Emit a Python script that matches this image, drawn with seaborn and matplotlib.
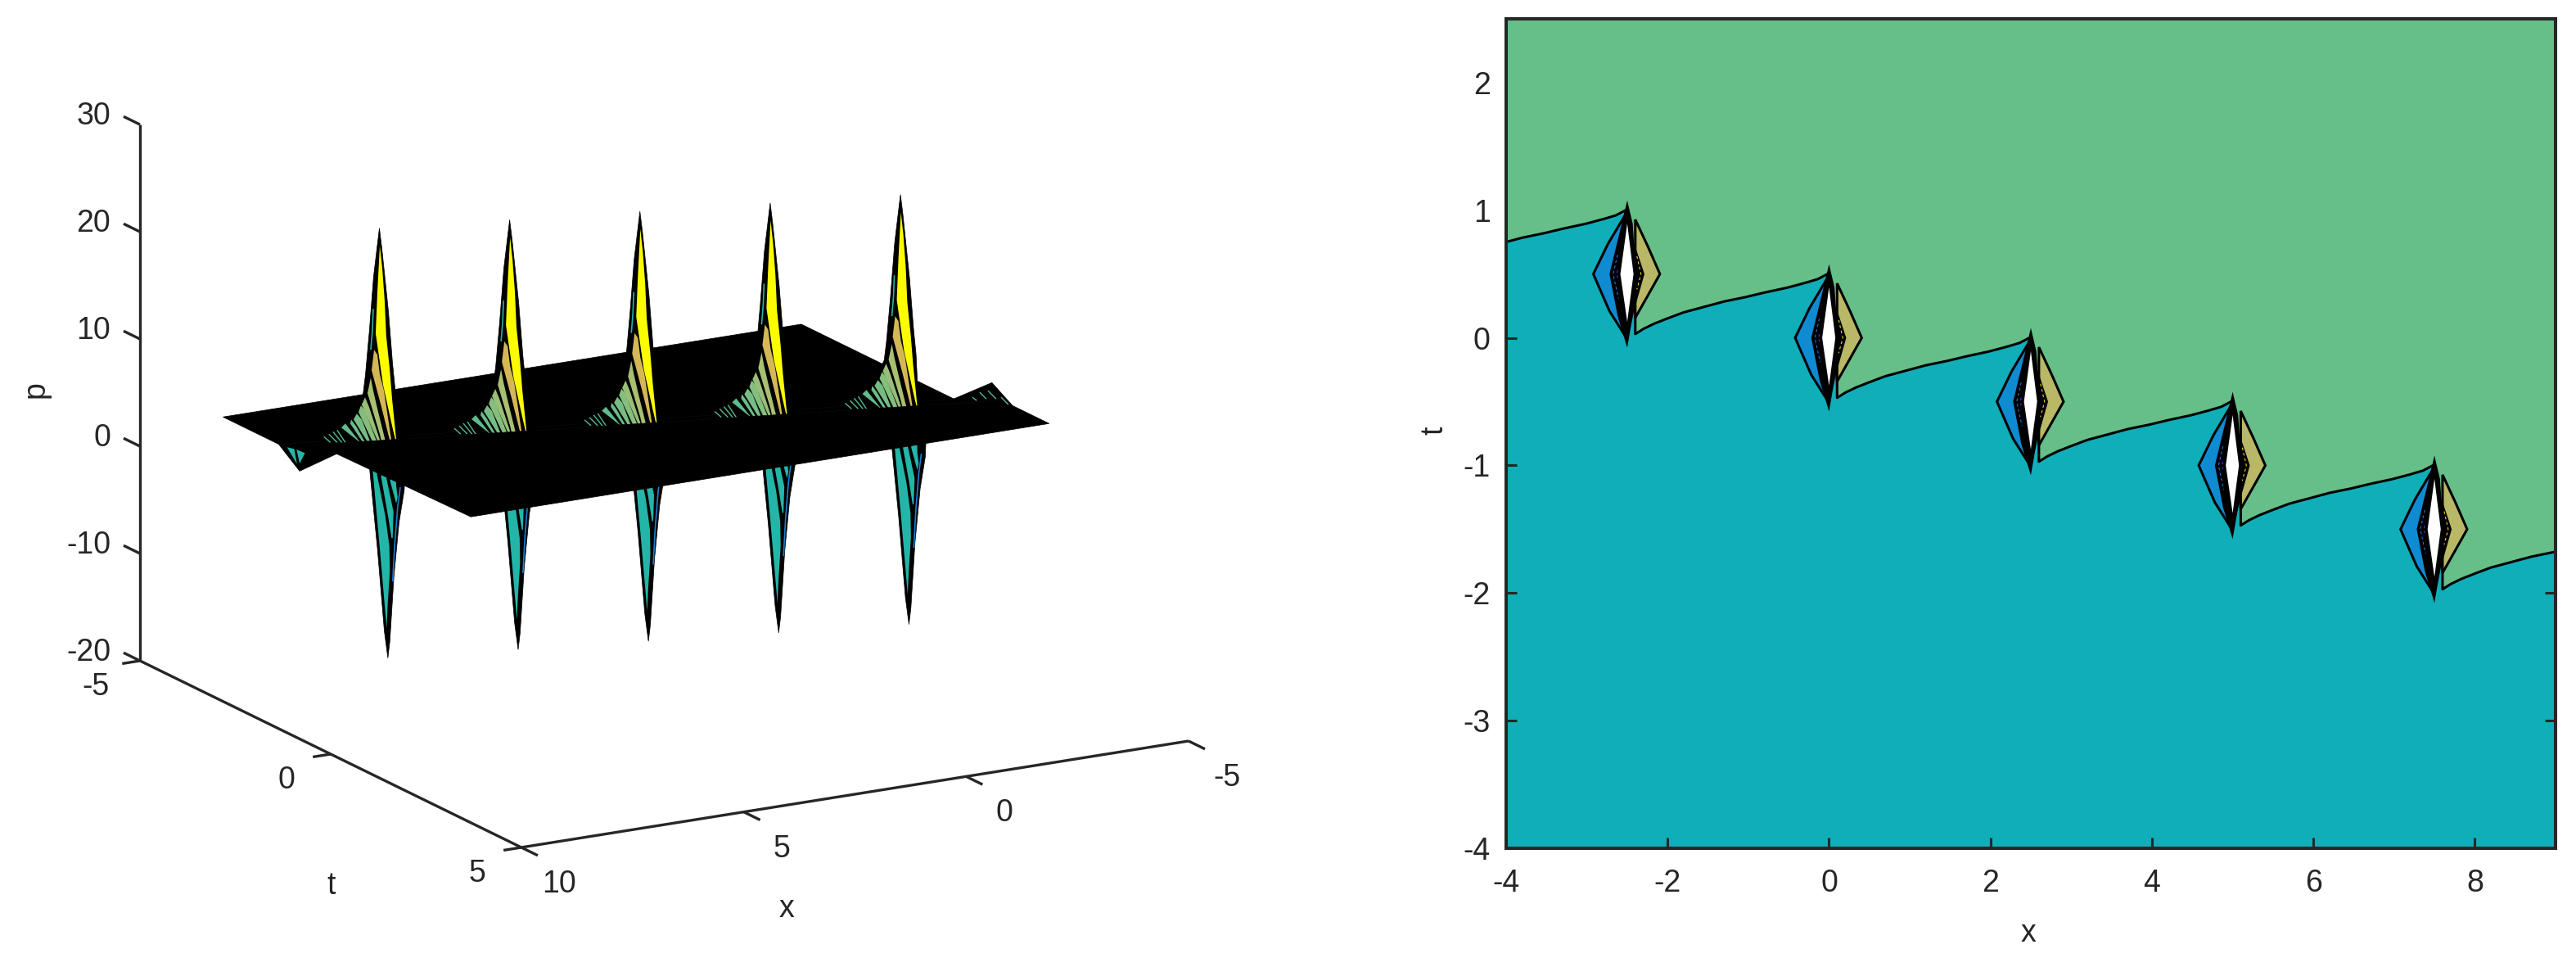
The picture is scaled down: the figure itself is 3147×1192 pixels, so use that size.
import numpy as np
import matplotlib
matplotlib.use('Agg')
import matplotlib.pyplot as plt
import seaborn as sns
from mpl_toolkits.mplot3d import proj3d
from mpl_toolkits.mplot3d.art3d import Poly3DCollection

# ---- values ----
centers_x = [7.5, 5.0, 2.5, 0.0, -2.5]
centers_t = [-1.5, -1.0, -0.5, 0.0, 0.5]

# upper sail, given along the ridge (t = tc - 0.2 dx)
sail_sil_dx = [0.109, 0.061, -0.065, -0.143, -0.19, -0.238, 1.227, 1.195, 0.80, 0.60, 0.42, 0.376, 0.30, 0.22]
sail_sil_p = [24.84, 22.92, 17.0, 12.17, 9.87, 4.96, 5.18, 5.86, 6.58, 7.66, 9.52, 11.26, 15.36, 20.37]
strips_dx = [
    [0.093, 0.046, 0.0, -0.03, -0.096, -0.143, -0.222, -0.206, -0.143, 0.03, 0.172, 0.14],
    [0.203, 0.14, 0.093, 0.014, -0.128, -0.096, 0.061, 0.25],
    [0.266, 0.219, 0.124, -0.017, 0.061, 0.093, 0.329],
    [0.376, 0.298, 0.077, 0.124, 0.44],
    [0.455, 0.38, 0.14, 0.219, 0.502],
    [0.534, 0.44, 0.266, 0.313, 0.597],
    [0.644, 0.55, 0.36, 0.44, 0.66],
    [0.754, 0.455, 0.534, 0.833],
]
strips_p = [
    [23.16, 21.08, 18.02, 14.72, 11.65, 8.81, 4.97, 4.97, 6.29, 10.16, 15.01, 18.82],
    [13.5, 13.02, 11.18, 9.63, 5.0, 5.0, 8.11, 11.6],
    [10.92, 9.69, 7.67, 4.88, 4.9, 5.6, 9.49],
    [9.12, 8.18, 4.83, 4.86, 8.46],
    [8.38, 7.9, 4.78, 4.8, 7.79],
    [7.64, 7.08, 4.8, 4.82, 7.13],
    [7.14, 6.5, 4.8, 5.1, 6.76],
    [6.79, 4.86, 5.2, 6.44],
]
strip_colors = ['#fcfc00', '#d4b856', '#a9bf71', '#97bf78', '#85be7e', '#76bd83', '#6abc88', '#60bb8b']
thin_dx = [[0.912, 0.723], [0.99, 0.80], [1.07, 0.912], [1.164, 1.04]]
thin_p = [[6.23, 4.79], [6.1, 4.9], [5.9, 5.08], [5.69, 5.12]]
sliver_dx = [0.219, 0.235, 0.266]
sliver_p = [17.32, 15.33, 13.52]

# lower trough
trough_sil_dx = [-0.054, 0.014, 0.145, 0.287, 0.345, -0.41, -0.368, -0.269, -0.17, -0.091]
trough_sil_p = [-15.28, -12.74, -5.07, 1.99, 5.68, 5.5, 0.27, -2.68, -7.69, -13.77]
facets_dx = [
    [0.266, 0.224, 0.093, -0.038, -0.06, -0.10, -0.091, -0.013, 0.145, 0.187],
    [0.109, 0.066, -0.065, -0.132, -0.154, -0.17, -0.038, 0.0],
    [-0.08, -0.107, -0.222, -0.249, -0.222, -0.206],
]
facets_p = [
    [5.6, 1.98, -5.08, -12.53, -10.24, -7.2, -4.92, -2.07, 1.8, 5.6],
    [5.6, 1.55, -2.08, -4.16, -4.17, -1.73, 1.36, 5.6],
    [5.6, 1.12, -0.98, -0.38, 0.69, 5.6],
]
blue_line_dx = [-0.30, -0.249, -0.195, -0.154]
blue_line_p = [0.52, -1.37, -4.64, -8.21]

# streaks of the next peak, just inside the right edge of the plate
tail_dx = [[0.923, 0.765], [0.67, 0.53], [1.08, 0.954], [1.22, 1.14]]
tail_p = [[6.0, 5.18], [5.3, 4.57], [5.89, 5.24], [5.47, 5.14]]

# plate: two flat levels with a jagged step along the ridge
back_x = [9, -4, -4, 9]
back_t = [-4, -4, 0, -2.54]
back_p = [3.85, 3.9, 3.9, 3.85]
front_x = [9, -4, -4, -3.9, 8.9, 9]
front_t = [2.5, 2.5, 1.54, 1.21, -1.35, -1.02]
front_p = [5.85, 5.95, 5.95, 5.9, 5.9, 5.6]
step_x = [-4, 9, 9, 9, 8.9, -3.9, -4, -4]
step_t = [0, -2.54, -1.99, -1.02, -1.35, 1.21, 1.54, 1.0]
step_p = [3.9, 3.85, 2.3, 5.6, 5.9, 5.9, 5.95, 7.15]
frag_t = [-2.31, -2.12, -2.05]
frag_p = [3.93, 4.1, 2.82]
frag2_t = [-2.06, -1.84, -1.98]
frag2_p = [4.15, 4.2, 3.0]

# axes of the 3-D panel
x3_ticks = [10, 5, 0, -5]
t3_ticks = [-5, 0, 5]
p3_ticks = [30, 20, 10, 0, -10, -20]

# right panel, offsets from each centre
bnd_dx = [-0.02, 0.0, 0.06, 0.10, 0.10, 0.20, 0.33, 0.49, 0.70, 0.96, 1.20, 1.47, 1.70, 1.98, 2.20, 2.36]
bnd_dt = [0.5, 0.3, 0.0, -0.34, -0.47, -0.43, -0.39, -0.35, -0.30, -0.256, -0.215, -0.18, -0.145, -0.107, -0.07, -0.04]
bnd_centers_x = [-5.0, -2.5, 0.0, 2.5, 5.0, 7.5]
bnd_centers_t = [1.0, 0.5, 0.0, -0.5, -1.0, -1.5]
lobe_blue_dx = [0.0, -0.24, -0.42, -0.22, -0.02]
lobe_blue_dt = [0.49, 0.235, 0.0, -0.29, -0.49]
lobe_tan_dx = [0.10, 0.26, 0.405, 0.253, 0.10]
lobe_tan_dt = [0.427, 0.21, 0.0, -0.171, -0.342]
core_black_dx = [0.0, 0.068, 0.084, 0.213, 0.084, 0.05, 0.0, -0.118, -0.22, -0.084]
core_black_dt = [0.577, 0.395, 0.246, 0.0, -0.288, -0.395, -0.577, -0.331, 0.0, 0.353]
core_white_dx = [0.0, -0.085, 0.0, 0.078]
core_white_dt = [0.395, 0.0, -0.374, 0.0]
dash_blue_dx = [-0.12, -0.175, -0.11]
dash_blue_dt = [0.15, 0.0, -0.19]
dash_purple_dx = [-0.12, -0.13, -0.12]
dash_purple_dt = [0.03, 0.0, -0.03]
dash_yellow_dx = [0.12, 0.17, 0.12]
dash_yellow_dt = [0.14, 0.0, -0.12]

x2_ticks = [-4, -2, 0, 2, 4, 6, 8]
t2_ticks = [-4, -3, -2, -1, 0, 1, 2]

W, H = 3147, 1192
INK = '#262626'
TEAL, GREEN = '#10aeb9', '#66bf88'
TROUGH = '#24b5a9'

sns.set_theme(style='white')
plt.rcParams['font.family'] = ['Liberation Sans', 'DejaVu Sans']
plt.rcParams['font.size'] = 27
plt.rcParams['axes.unicode_minus'] = False

fig = plt.figure(figsize=(W / 100, H / 100), dpi=100, facecolor='white')


def along(cx, ct, dx, p):
    return [(cx + d, ct - 0.2 * d, v) for d, v in zip(dx, p)]


def add_polys(ax, polys, colors, lw=0.0, z=1):
    pc = Poly3DCollection(polys, facecolors=colors, edgecolors=colors, linewidths=lw, zorder=z)
    ax.add_collection3d(pc, autolim=False)


def add_line(ax, pts, color, lw, z):
    pts = np.array(pts)
    ax.plot(pts[:, 0], pts[:, 1], pts[:, 2], color=color, lw=lw, zorder=z, solid_capstyle='butt')


def corner_px(ax, x, t, p):
    x2, y2, _ = proj3d.proj_transform(x, t, p, ax.get_proj())
    return ax.transData.transform((x2, y2))


# ==========================================
# LEFT: surface
# ==========================================
ax3 = fig.add_axes([0.0, 0.0, 0.3, 0.3 * W / H], projection='3d', proj_type='ortho',
                   computed_zorder=False)
ax3.view_init(elev=16.22, azim=60.28)
ax3.set_xlim(-5, 10)
ax3.set_ylim(-5, 5)
ax3.set_zlim(-20, 30)
ax3.set_box_aspect((938.5, 939.7, 682))
ax3.set_axis_off()
ax3.patch.set_alpha(0)

for cx, ct in zip(centers_x, centers_t):
    add_polys(ax3, [along(cx, ct, trough_sil_dx, trough_sil_p)], ['black'], lw=0.5, z=1)
    add_polys(ax3, [along(cx, ct, a, b) for a, b in zip(facets_dx, facets_p)], [TROUGH] * 3, z=2)
    add_line(ax3, along(cx, ct, blue_line_dx, blue_line_p), '#1a7fd0', 1.2, 2.5)

add_polys(ax3, [list(zip(back_x, back_t, back_p))], ['black'], lw=0.5, z=3)
add_polys(ax3, [list(zip(step_x, step_t, step_p))], ['black'], lw=0.5, z=3)
add_polys(ax3, [[(9, a, b) for a, b in zip(frag_t, frag_p)],
                [(9, a, b) for a, b in zip(frag2_t, frag2_p)]], [TROUGH] * 2, z=3.5)

for cx, ct in zip(centers_x, centers_t):
    add_polys(ax3, [along(cx, ct, sail_sil_dx, sail_sil_p)], ['black'], lw=0.5, z=4)
    add_polys(ax3, [along(cx, ct, a, b) for a, b in zip(strips_dx, strips_p)], strip_colors, z=5)
    add_line(ax3, along(cx, ct, sliver_dx, sliver_p), TROUGH, 1.2, 5)
    for a, b in zip(thin_dx, thin_p):
        add_line(ax3, along(cx, ct, a, b), '#55b992', 1.0, 5)

add_polys(ax3, [list(zip(front_x, front_t, front_p))], ['black'], lw=0.5, z=6)

for a, b in zip(tail_dx, tail_p):
    add_line(ax3, along(-5.0, 1.0, a, b), '#55b992', 1.0, 7)

# own box lines, MATLAB style
axis_kw = dict(color=INK, lw=2.4, solid_capstyle='butt', zorder=0)
ax3.plot([10, 10], [-5, -5], [min(p3_ticks), max(p3_ticks)], **axis_kw)
ax3.plot([10, 10], [min(t3_ticks), max(t3_ticks)], [-20, -20], **axis_kw)
ax3.plot([min(x3_ticks), max(x3_ticks)], [5, 5], [-20, -20], **axis_kw)
for v in p3_ticks:
    ax3.plot([10, 10], [-5, -5.43], [v, v], **axis_kw)
for v in t3_ticks:
    ax3.plot([10, 10.4], [v, v], [-20, -20], **axis_kw)
for v in x3_ticks:
    ax3.plot([v, v], [5, 5.43], [-20, -20], **axis_kw)

# fit the square 3-D axes onto the corners of the reference box
targets = [((10, -5, -20), (171, H - 807)), ((-5, 5, -20), (1452, H - 905))]
left, bottom, size = 0.0, 0.0, 0.3 * W
for _ in range(3):
    fig.canvas.draw()
    a = corner_px(ax3, *targets[0][0])
    b = corner_px(ax3, *targets[1][0])
    ta, tb = np.array(targets[0][1], float), np.array(targets[1][1], float)
    scale = np.hypot(*(tb - ta)) / np.hypot(*(b - a))
    new_size = size * scale
    left = ta[0] - (a[0] - left) / size * new_size
    bottom = ta[1] - (a[1] - bottom) / size * new_size
    size = new_size
    ax3.set_position([left / W, bottom / H, size / W, size / H])
fig.canvas.draw()

# tick labels of the box, placed from the axes' own projection
label_kw = dict(va='center', color=INK, fontsize=27)
for v in p3_ticks:
    px = corner_px(ax3, 10, -5.77, v - 0.6)
    fig.text(px[0] / W, px[1] / H, str(v), ha='right', **label_kw)
for v in t3_ticks:
    px = corner_px(ax3, 11, v, -21.8)
    fig.text(px[0] / W, px[1] / H, str(v), ha='center', **label_kw)
for v in x3_ticks:
    px = corner_px(ax3, v, 6, -21.7)
    fig.text(px[0] / W, px[1] / H, str(v), ha='center', **label_kw)

fig.text(44 / W, 1 - 476 / H, 'p', rotation=90, ha='center', va='center', color=INK, fontsize=27)
fig.text(405 / W, 1 - 1082 / H, 't', ha='center', va='center', color=INK, fontsize=27)
fig.text(961 / W, 1 - 1110 / H, 'x', ha='center', va='center', color=INK, fontsize=27)

# ==========================================
# RIGHT: regions in the (x, t) plane
# ==========================================
ax = fig.add_axes([1840 / W, 1 - 1036 / H, (3122 - 1840) / W, (1036 - 23) / H])
ax.set_facecolor(TEAL)

bnd_x = np.concatenate([cx + np.array(bnd_dx) for cx in bnd_centers_x])
bnd_t = np.concatenate([ct + np.array(bnd_dt) for ct in bnd_centers_t])
ax.fill(np.r_[bnd_x, 10, 10, -6], np.r_[bnd_t, bnd_t[-1], 3, 3], color=GREEN, lw=0, zorder=1)
sns.lineplot(x=bnd_x, y=bnd_t, sort=False, estimator=None, color='black', lw=2.2, ax=ax, zorder=2)

edge = dict(edgecolor='black', lw=2.2, joinstyle='miter')
for cx, ct in zip(centers_x, centers_t):
    ax.fill(cx + np.array(lobe_blue_dx), ct + np.array(lobe_blue_dt), facecolor='#0f8bd2', zorder=3, **edge)
    ax.fill(cx + np.array(lobe_tan_dx), ct + np.array(lobe_tan_dt), facecolor='#b9b866', zorder=3, **edge)
    ax.fill(cx + np.array(core_black_dx), ct + np.array(core_black_dt), color='black', lw=0, zorder=4)
    ax.fill(cx + np.array(core_white_dx), ct + np.array(core_white_dt), color='white', lw=0, zorder=5)
    for dx, dt, col in [(dash_blue_dx, dash_blue_dt, '#1f78e0'),
                        (dash_purple_dx, dash_purple_dt, '#5a2fd0'),
                        (dash_yellow_dx, dash_yellow_dt, '#f3d21a')]:
        ax.plot(cx + np.array(dx), ct + np.array(dt), color=col, lw=0.8, ls=(0, (3, 3)), zorder=5)

ax.set_xlim(-4, 9)
ax.set_ylim(-4, 2.5)
ax.set_xticks(x2_ticks)
ax.set_yticks(t2_ticks)
ax.tick_params(direction='in', length=9.6, width=2.2, color=INK, labelcolor=INK, labelsize=27,
               top=True, right=True, bottom=True, left=True)
ax.tick_params(axis='x', pad=18)
ax.tick_params(axis='y', pad=14)
for s in ax.spines.values():
    s.set_linewidth(2.9)
    s.set_color(INK)
    s.set_zorder(10)
ax.set_xlabel('')
ax.set_ylabel('')
fig.text(2478 / W, 1 - 1140 / H, 'x', ha='center', va='center', color=INK, fontsize=27)
fig.text(1752 / W, 1 - 526 / H, 't', rotation=90, ha='center', va='center', color=INK, fontsize=27)

fig.savefig('out.png', dpi=100, facecolor='white')
plt.close(fig)
